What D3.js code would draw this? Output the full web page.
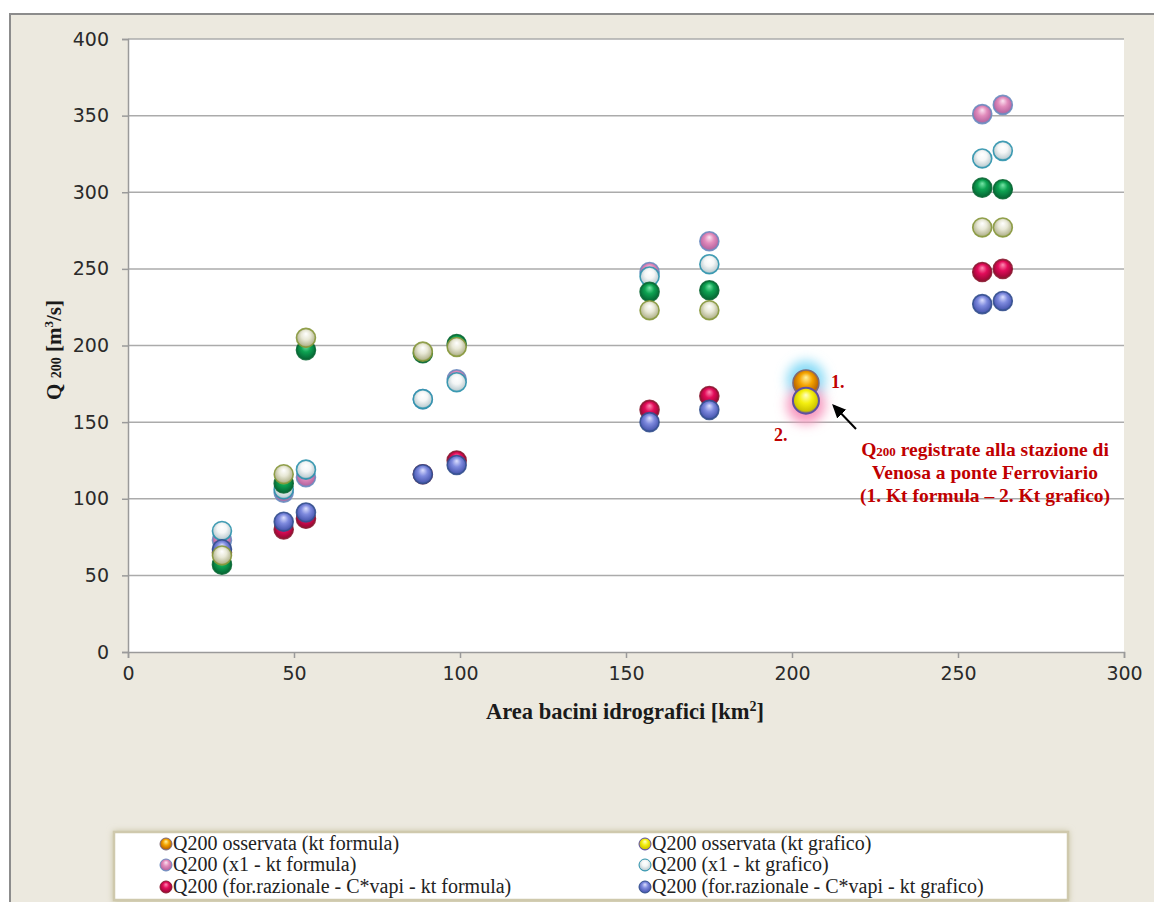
<!DOCTYPE html>
<html>
<head>
<meta charset="utf-8">
<script src="https://cdn.jsdelivr.net/npm/d3@7"></script>
<style>
  html, body { margin: 0; padding: 0; background: #ffffff; }
  svg { display: block; }
</style>
</head>
<body>
<div id="chart"></div>
<script>
// Basin areas [km²] for the catchments compared
const areas = [28.3, 46.9, 53.6, 88.8, 99.0, 157.1, 175.1, 257.3, 263.5];

// Q200 estimates [m³/s] for each method, one value per basin
const x1Formula   = [73, 104, 114, 165, 178, 248, 268, 351, 357];
const x1Grafico   = [79, 106, 119, 165, 176, 245, 253, 322, 327];
const razFormula  = [65, 80, 87, 116, 125, 158, 167, 248, 250];
const razGrafico  = [67, 85, 91, 116, 122, 150, 158, 227, 229];
const greenSeries = [57, 110, 197, 195, 201, 235, 236, 303, 302];
const khakiSeries = [63, 116, 205, 196, 199, 223, 223, 277, 277];

// Observed Q200 at Venosa (ponte Ferroviario)
const obsArea = [204.2];
const obsFormula = [175.5];
const obsGrafico = [164];

const yTicks = [0, 50, 100, 150, 200, 250, 300, 350, 400];
const xTicks = [0, 50, 100, 150, 200, 250, 300];

const legendLabels = [
  "Q200 osservata (kt formula)", "Q200 osservata (kt grafico)",
  "Q200 (x1 - kt formula)", "Q200 (x1 - kt grafico)",
  "Q200 (for.razionale - C*vapi - kt formula)", "Q200 (for.razionale - C*vapi - kt grafico)"
];

const W = 1154, H = 902;
const plot = { left: 128, right: 1124, top: 39, bottom: 652 };

const svg = d3.select("#chart").append("svg").attr("width", W).attr("height", H);
const defs = svg.append("defs");

// sphere-like radial gradients: highlight, body colour, rim
const styles = {
  orange:  { hi: "#fff2a0", mid: "#f5a400", lo: "#c06a00", rim: "#7e6a78" },
  yellow:  { hi: "#ffffc8", mid: "#f4f010", lo: "#cfc600", rim: "#5e50a0" },
  pink:    { hi: "#fbe4f2", mid: "#e28cbc", lo: "#bc6aa4", rim: "#6c8cc0" },
  cyan:    { hi: "#ffffff", mid: "#f4f6f6", lo: "#c4d2d6", rim: "#2f93ad" },
  crimson: { hi: "#ff8cb4", mid: "#e20c5a", lo: "#a8083c", rim: "#8c1a32" },
  blue:    { hi: "#dde0ff", mid: "#7e8ade", lo: "#5260b8", rim: "#34508e" },
  green:   { hi: "#78e6a8", mid: "#0ea352", lo: "#07753c", rim: "#0a6834" },
  khaki:   { hi: "#ffffff", mid: "#e8e8d6", lo: "#babb98", rim: "#87983c" }
};
Object.entries(styles).forEach(([k, s]) => {
  const g = defs.append("radialGradient").attr("id", "g-" + k)
    .attr("cx", "50%").attr("cy", "45%").attr("r", "55%")
    .attr("fx", "50%").attr("fy", "28%");
  g.append("stop").attr("offset", "0%").attr("stop-color", s.hi);
  g.append("stop").attr("offset", "45%").attr("stop-color", s.mid);
  g.append("stop").attr("offset", "85%").attr("stop-color", s.lo);
  g.append("stop").attr("offset", "100%").attr("stop-color", s.rim);
});

const blur = defs.append("filter").attr("id", "glow").attr("x", "-100%").attr("y", "-100%")
  .attr("width", "300%").attr("height", "300%");
blur.append("feGaussianBlur").attr("stdDeviation", 6);

const shadow = defs.append("filter").attr("id", "shadow").attr("x", "-5%").attr("y", "-30%")
  .attr("width", "110%").attr("height", "160%");
shadow.append("feGaussianBlur").attr("stdDeviation", 3);

defs.append("marker").attr("id", "arrow").attr("viewBox", "0 0 10 10")
  .attr("refX", 8).attr("refY", 5).attr("markerWidth", 7).attr("markerHeight", 7)
  .attr("markerUnits", "strokeWidth").attr("orient", "auto")
  .append("path").attr("d", "M0,0.5 L10,5 L0,9.5 z").attr("fill", "#000");

// chart frame
svg.append("rect").attr("x", 10).attr("y", 14).attr("width", W + 20).attr("height", H + 20)
  .attr("fill", "#ece9df").attr("stroke", "#8c8c8c").attr("stroke-width", 2);

// plot area
svg.append("rect").attr("x", plot.left).attr("y", plot.top)
  .attr("width", plot.right - plot.left).attr("height", plot.bottom - plot.top)
  .attr("fill", "#ffffff");

const x = d3.scaleLinear().domain([0, 300]).range([plot.left, plot.right]);
const y = d3.scaleLinear().domain([0, 400]).range([plot.bottom, plot.top]);

// horizontal gridlines
svg.append("g").selectAll("line").data(yTicks.slice(1)).join("line")
  .attr("x1", plot.left).attr("x2", plot.right)
  .attr("y1", d => y(d)).attr("y2", d => y(d))
  .attr("stroke", "#ababab").attr("stroke-width", 1.5);

// axes
const yAxis = svg.append("g").attr("transform", `translate(${plot.left},0)`)
  .call(d3.axisLeft(y).tickValues(yTicks).tickSize(6).tickPadding(13));
const xAxis = svg.append("g").attr("transform", `translate(0,${plot.bottom})`)
  .call(d3.axisBottom(x).tickValues(xTicks).tickSize(6).tickPadding(9));
[yAxis, xAxis].forEach(a => {
  a.select(".domain").attr("stroke", "#9a9a9a").attr("stroke-width", 1.5);
  a.selectAll(".tick line").attr("stroke", "#9a9a9a").attr("stroke-width", 1.5);
  a.selectAll(".tick text").attr("fill", "#2a2a2a")
    .style("font-family", "DejaVu Sans").style("font-size", "19px");
});

// axis titles
svg.append("text").attr("x", 625).attr("y", 719).attr("text-anchor", "middle")
  .style("font-family", "Liberation Serif").style("font-weight", "bold").style("font-size", "22.5px")
  .attr("fill", "#1a1a1a")
  .call(t => {
    t.append("tspan").text("Area bacini idrografici [km");
    t.append("tspan").text("2").attr("dy", -8).style("font-size", "14px");
    t.append("tspan").text("]").attr("dy", 8);
  });

svg.append("text").attr("transform", "translate(61,350) rotate(-90)").attr("text-anchor", "middle")
  .style("font-family", "Liberation Serif").style("font-weight", "bold").style("font-size", "21px")
  .attr("fill", "#1a1a1a")
  .call(t => {
    t.append("tspan").text("Q ");
    t.append("tspan").text("200").style("font-size", "14px");
    t.append("tspan").text(" [m");
    t.append("tspan").text("3").attr("dy", -8).style("font-size", "13px");
    t.append("tspan").text("/s]").attr("dy", 8);
  });

// method series, in drawing order
const series = [
  { key: "pink", values: x1Formula },
  { key: "cyan", values: x1Grafico },
  { key: "crimson", values: razFormula },
  { key: "blue", values: razGrafico },
  { key: "green", values: greenSeries },
  { key: "khaki", values: khakiSeries }
];
series.forEach(s => {
  svg.append("g").selectAll("circle").data(s.values.map((v, i) => [areas[i], v])).join("circle")
    .attr("cx", d => x(d[0])).attr("cy", d => y(d[1])).attr("r", 9.5)
    .attr("fill", `url(#g-${s.key})`)
    .attr("stroke", styles[s.key].rim).attr("stroke-width", 1.6).attr("stroke-opacity", 0.9);
});

// glow halos behind the observed values
svg.append("circle").attr("cx", x(obsArea[0])).attr("cy", y(obsFormula[0]) - 3).attr("r", 19)
  .attr("fill", "#86daf6").attr("filter", "url(#glow)");
svg.append("circle").attr("cx", x(obsArea[0])).attr("cy", y(obsGrafico[0]) + 4).attr("r", 19)
  .attr("fill", "#f795bd").attr("filter", "url(#glow)");

svg.append("g").selectAll("circle").data(obsArea.map((a, i) => [a, obsFormula[i]])).join("circle")
  .attr("cx", d => x(d[0])).attr("cy", d => y(d[1])).attr("r", 13)
  .attr("fill", "url(#g-orange)")
  .attr("stroke", styles.orange.rim).attr("stroke-width", 1.5);
svg.append("g").selectAll("circle").data(obsArea.map((a, i) => [a, obsGrafico[i]])).join("circle")
  .attr("cx", d => x(d[0])).attr("cy", d => y(d[1])).attr("r", 13)
  .attr("fill", "url(#g-yellow)")
  .attr("stroke", styles.yellow.rim).attr("stroke-width", 2);

// annotation
const red = "#c00000";
const annot = svg.append("g").style("font-family", "Liberation Serif").style("font-weight", "bold")
  .attr("fill", red);
annot.append("text").attr("x", x(obsArea[0]) + 25).attr("y", y(obsFormula[0]) + 5)
  .style("font-size", "18px").text("1.");
annot.append("text").attr("x", x(obsArea[0]) - 32).attr("y", y(obsGrafico[0]) + 40)
  .style("font-size", "18px").text("2.");

svg.append("line").attr("x1", 856).attr("y1", 429).attr("x2", 834).attr("y2", 406)
  .attr("stroke", "#000").attr("stroke-width", 2).attr("marker-end", "url(#arrow)");

const lines = annot.append("text").attr("text-anchor", "middle").style("font-size", "19.5px");
lines.append("tspan").attr("x", 985).attr("y", 456).call(t => {
  t.append("tspan").text("Q");
  t.append("tspan").text("200").style("font-size", "13px");
  t.append("tspan").text(" registrate alla stazione di");
});
lines.append("tspan").attr("x", 985).attr("y", 479).text("Venosa a ponte Ferroviario");
lines.append("tspan").attr("x", 985).attr("y", 502).text("(1. Kt formula \u2013 2. Kt grafico)");

// legend
const lg = svg.append("g");
lg.append("rect").attr("x", 113).attr("y", 831).attr("width", 956).attr("height", 72)
  .attr("fill", "#c8c2a2").attr("filter", "url(#shadow)");
lg.append("rect").attr("x", 114).attr("y", 832).attr("width", 954).attr("height", 68)
  .attr("fill", "#ffffff").attr("stroke", "#cfc9ad").attr("stroke-width", 2.5);

const legendKeys = ["orange", "yellow", "pink", "cyan", "crimson", "blue"];
const colX = [166, 645];
const rowY = [844, 865, 887];
legendLabels.forEach((lbl, i) => {
  const cx = colX[i % 2], cy = rowY[Math.floor(i / 2)];
  lg.append("circle").attr("cx", cx).attr("cy", cy).attr("r", 6)
    .attr("fill", `url(#g-${legendKeys[i]})`)
    .attr("stroke", styles[legendKeys[i]].rim).attr("stroke-width", 1);
  lg.append("text").attr("x", cx + 7).attr("y", cy + 6)
    .style("font-family", "Liberation Serif").style("font-size", "20px")
    .attr("fill", "#222").text(lbl);
});
</script>
</body>
</html>
